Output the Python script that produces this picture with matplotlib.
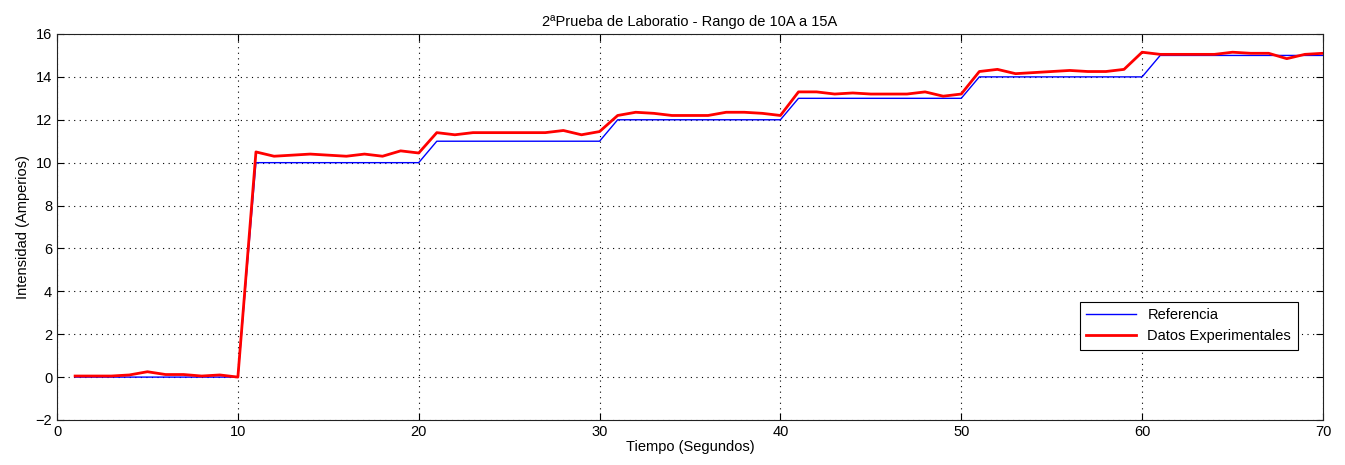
import numpy as np
import matplotlib.pyplot as plt

plt.rcParams['font.family'] = ['Liberation Sans', 'DejaVu Sans']

# time axis (seconds)
t = np.arange(1, 71)

# reference steps: 0 until 10 s, then +1 A every 10 s from 10 A to 15 A
t_ref = [1, 10, 11, 20, 21, 30, 31, 40, 41, 50, 51, 60, 61, 70]
i_ref = [0, 0, 10, 10, 11, 11, 12, 12, 13, 13, 14, 14, 15, 15]

i_exp = [0.05, 0.05, 0.05, 0.1, 0.25, 0.12, 0.12, 0.05, 0.1, 0.0,
         10.5, 10.3, 10.35, 10.4, 10.35, 10.3, 10.4, 10.3, 10.55, 10.45,
         11.4, 11.3, 11.4, 11.4, 11.4, 11.4, 11.4, 11.5, 11.3, 11.45,
         12.2, 12.35, 12.3, 12.2, 12.2, 12.2, 12.35, 12.35, 12.3, 12.2,
         13.3, 13.3, 13.2, 13.25, 13.2, 13.2, 13.2, 13.3, 13.1, 13.2,
         14.25, 14.35, 14.15, 14.2, 14.25, 14.3, 14.25, 14.25, 14.35, 15.15,
         15.05, 15.05, 15.05, 15.05, 15.15, 15.1, 15.1, 14.85, 15.05, 15.1]

fig = plt.figure(figsize=(13.45, 4.65), dpi=100)
ax = fig.add_axes([0.0424, 0.0968, 0.9412, 0.8301])

ax.plot(t_ref, i_ref, color='#0000ff', lw=1.0, label='Referencia')
ax.plot(t, i_exp, color='#ff0000', lw=2.0, label='Datos Experimentales')

ax.set_xlim(0, 70)
ax.set_ylim(-2, 16)
ax.set_xticks(range(0, 71, 10))
ax.set_yticks(range(-2, 17, 2))
ax.grid(True, color='black', linestyle=(0, (1, 4)), linewidth=0.8)
ax.tick_params(direction='in', top=True, right=True, labelsize=10.5, length=5)
for s in ax.spines.values():
    s.set_color('#222222')

ax.set_title('2ªPrueba de Laboratio - Rango de 10A a 15A', fontsize=10.5, pad=6)
ax.set_xlabel('Tiempo (Segundos)', fontsize=10.5, labelpad=1)
ax.set_ylabel('Intensidad (Amperios)', fontsize=10.5, labelpad=4)

leg = ax.legend(loc='lower right', bbox_to_anchor=(0.9835, 0.17), fontsize=10.5,
                fancybox=False, edgecolor='black', framealpha=1,
                handlelength=3.4, borderaxespad=0.3, borderpad=0.45)
leg.get_frame().set_linewidth(0.8)

fig.savefig('out.png', dpi=100)
